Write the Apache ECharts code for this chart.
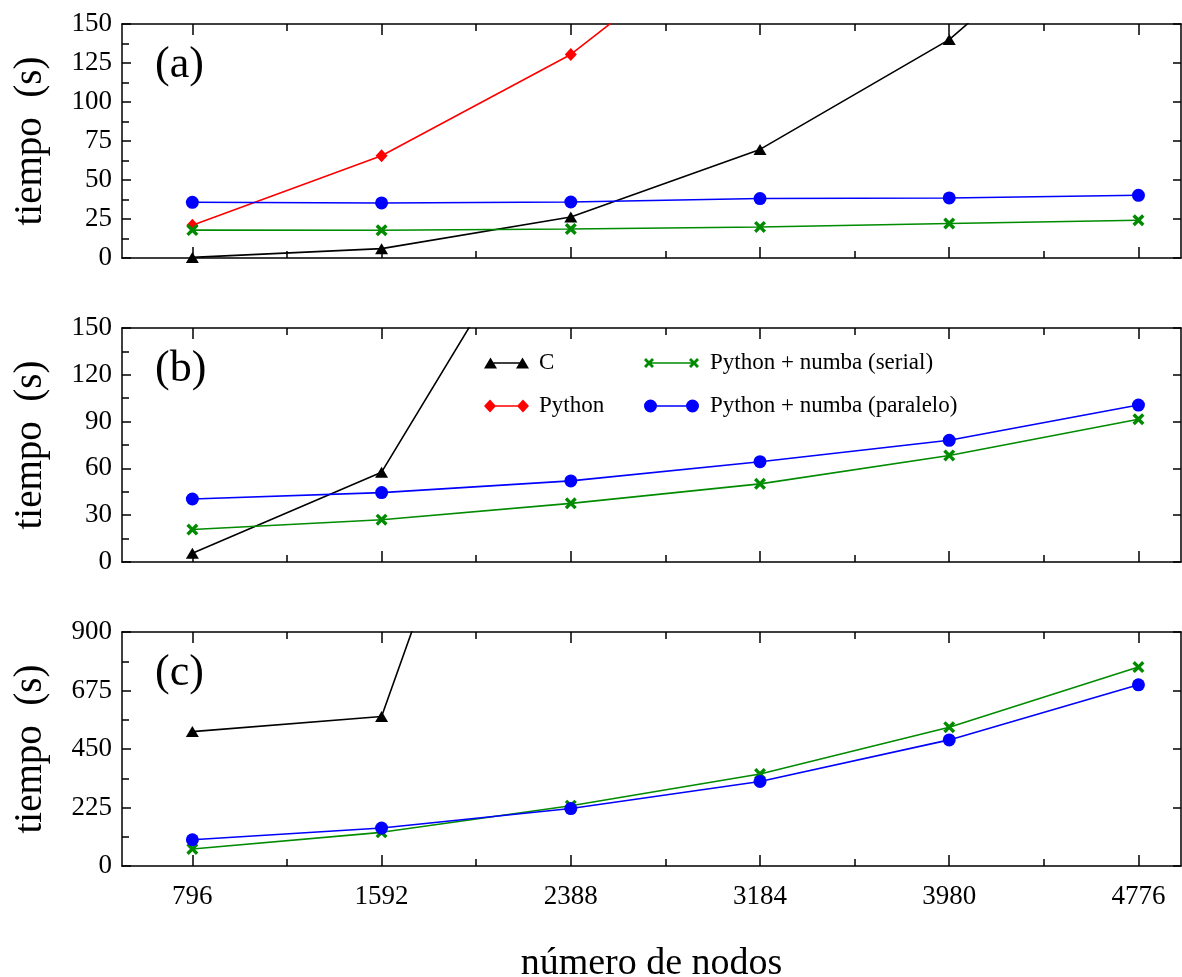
<!DOCTYPE html>
<html>
<head>
<meta charset="utf-8">
<title>tiempo vs número de nodos</title>
<script src="https://cdn.jsdelivr.net/npm/echarts@6/dist/echarts.min.js"></script>
<style>
  html, body { margin: 0; padding: 0; background: #ffffff; }
  #chart { width: 1182px; height: 977px; }
</style>
</head>
<body>
<div id="chart"></div>
<script>
// ---- datos ----
const nodos = [796, 1592, 2388, 3184, 3980, 4776];
const ticksX = [796, 1592, 2388, 3184, 3980, 4776];
const ticksXMenores = [1194, 1990, 2786, 3582, 4378];

// panel (a)
const a_C = [0.4, 6.0, 26.3, 69.6, 140, 245];
const a_Python = [21, 65.5, 130.5, 225];
const a_serial = [17.9, 17.8, 18.6, 19.9, 22.1, 24.2];
const a_paralelo = [35.7, 35.3, 35.9, 38.1, 38.5, 40.2];

// panel (b)
const b_C = [5.6, 57.6, 258];
const b_serial = [20.8, 27.1, 37.6, 50.1, 68.3, 91.5];
const b_paralelo = [40.4, 44.5, 52.0, 64.3, 78.0, 100.6];

// panel (c)
const c_C = [517, 575, 2620];
const c_serial = [65.5, 129.5, 232, 354, 534, 765];
const c_paralelo = [101, 146, 221, 325, 485, 697];

const panelLabels = ['(a)', '(b)', '(c)'];
const yMax = [150, 150, 900];
const yInterval = [25, 30, 225];

// ---- layout & style ----
const FONT = "'Liberation Serif', 'Times New Roman', Times, serif";
const GRID_LEFT = 122;
const GRID_WIDTH = 1059;
const GRID_TOPS = [24, 328, 632];
const GRID_HEIGHT = 234;
const X_MIN = 500;
const X_MAX = 4955;
const LW = 1.6;
const axisLineStyle = { color: '#000', width: 1.5 };

const SYMBOL_X = 'path://M0,2L2,0L5,3L8,0L10,2L7,5L10,8L8,10L5,7L2,10L0,8L3,5Z';
const estilos = {
  'C': { color: '#000000', symbol: 'triangle', symbolSize: [13, 11] },
  'Python': { color: '#ff0000', symbol: 'diamond', symbolSize: [12, 13] },
  'Python + numba (serial)': { color: '#008b00', symbol: SYMBOL_X, symbolSize: 12 },
  'Python + numba (paralelo)': { color: '#0000ff', symbol: 'circle', symbolSize: 13 }
};

// legend icons: marker - line - marker
const iconos = {
  'C': 'path://M0,11L6.5,0L13,11Z M6.5,4.75L38.5,4.75L38.5,6.25L6.5,6.25Z M32,11L38.5,0L45,11Z',
  'Python': 'path://M0,6.5L6,0L12,6.5L6,13Z M6,5.75L39,5.75L39,7.25L6,7.25Z M33,6.5L39,0L45,6.5L39,13Z',
  'Python + numba (serial)': 'path://M0,2L2,0L5,3L8,0L10,2L7,5L10,8L8,10L5,7L2,10L0,8L3,5Z M5,4.25L50,4.25L50,5.75L5,5.75Z M45,2L47,0L50,3L53,0L55,2L52,5L55,8L53,10L50,7L47,10L45,8L48,5Z',
  'Python + numba (paralelo)': 'path://M0,6.5A6.5,6.5 0 1,1 13,6.5A6.5,6.5 0 1,1 0,6.5Z M6.5,5.75L48.5,5.75L48.5,7.25L6.5,7.25Z M42,6.5A6.5,6.5 0 1,1 55,6.5A6.5,6.5 0 1,1 42,6.5Z'
};

const grids = GRID_TOPS.map(top => ({
  left: GRID_LEFT, top: top, width: GRID_WIDTH, height: GRID_HEIGHT,
  containLabel: false, outerBoundsMode: 'none'
}));

function ejesX(g, conEtiquetas) {
  const base = {
    type: 'value', gridIndex: g, min: X_MIN, max: X_MAX,
    splitLine: { show: false },
    axisLine: { show: true, onZero: false, lineStyle: axisLineStyle },
    axisLabel: { show: false },
    silent: true
  };
  const mayor = { inside: true, length: 11, customValues: ticksX, lineStyle: axisLineStyle };
  const menor = { inside: true, length: 7, customValues: ticksXMenores, lineStyle: axisLineStyle };
  return [
    Object.assign({}, base, {
      position: 'bottom',
      axisTick: mayor,
      axisLabel: {
        show: conEtiquetas, customValues: ticksX, margin: 17,
        formatter: v => String(v),
        fontFamily: FONT, fontSize: 27, color: '#000'
      },
      name: conEtiquetas ? 'número de nodos' : '',
      nameLocation: 'middle', nameGap: 79,
      nameTextStyle: { fontFamily: FONT, fontSize: 38, color: '#000' }
    }),
    Object.assign({}, base, { position: 'bottom', axisLine: { show: false, onZero: false }, axisTick: menor }),
    Object.assign({}, base, { position: 'top', axisTick: mayor }),
    Object.assign({}, base, { position: 'top', axisLine: { show: false, onZero: false }, axisTick: menor })
  ];
}

function ejesY(g) {
  return [
    {
      type: 'value', gridIndex: g, position: 'left', min: 0, max: yMax[g], interval: yInterval[g],
      splitLine: { show: false },
      axisLine: { show: true, onZero: false, lineStyle: axisLineStyle },
      axisTick: { inside: true, length: 9, lineStyle: axisLineStyle },
      minorTick: { show: true, splitNumber: 2, length: 7, lineStyle: axisLineStyle },
      minorSplitLine: { show: false },
      axisLabel: { margin: 10, formatter: v => String(v), fontFamily: FONT, fontSize: 27, color: '#000' },
      name: 'tiempo  (s)', nameLocation: 'middle', nameGap: 72,
      nameTextStyle: { fontFamily: FONT, fontSize: 39, color: '#000' },
      silent: true
    },
    {
      type: 'value', gridIndex: g, position: 'right', min: 0, max: yMax[g], interval: yInterval[g],
      splitLine: { show: false },
      axisLine: { show: true, onZero: false, lineStyle: axisLineStyle },
      axisTick: { inside: true, length: 8, lineStyle: axisLineStyle },
      axisLabel: { show: false },
      silent: true
    }
  ];
}

function serie(nombre, g, valores, z) {
  const e = estilos[nombre];
  return {
    type: 'line', name: nombre,
    xAxisIndex: 4 * g, yAxisIndex: 2 * g,
    data: valores.map((v, i) => [nodos[i], v]),
    symbol: e.symbol, symbolSize: e.symbolSize, showSymbol: true,
    itemStyle: { color: e.color, borderWidth: 0 },
    lineStyle: { color: e.color, width: LW },
    clip: true, z: z,
    emphasis: { disabled: true }
  };
}

const series = [
  serie('C', 0, a_C, 3),
  serie('Python', 0, a_Python, 4),
  serie('Python + numba (serial)', 0, a_serial, 5),
  serie('Python + numba (paralelo)', 0, a_paralelo, 6),
  serie('C', 1, b_C, 3),
  serie('Python + numba (serial)', 1, b_serial, 5),
  serie('Python + numba (paralelo)', 1, b_paralelo, 6),
  serie('C', 2, c_C, 3),
  serie('Python + numba (serial)', 2, c_serial, 5),
  serie('Python + numba (paralelo)', 2, c_paralelo, 6)
];

const legendText = { fontFamily: FONT, fontSize: 23, color: '#000', lineHeight: 26 };
function leyenda(nombres, left, ancho, pad) {
  return {
    orient: 'vertical', left: left, top: 350, padding: 0,
    itemGap: 17, itemWidth: ancho, itemHeight: 13,
    selectedMode: false,
    itemStyle: { borderWidth: 0 },
    textStyle: Object.assign({}, legendText, { padding: [0, 0, 0, pad] }),
    data: nombres.map(n => ({ name: n, icon: iconos[n] }))
  };
}

const chart = echarts.init(document.getElementById('chart'), null, { renderer: 'canvas' });
chart.setOption({
  backgroundColor: '#ffffff',
  animation: false,
  grid: grids,
  xAxis: [].concat(ejesX(0, false), ejesX(1, false), ejesX(2, true)),
  yAxis: [].concat(ejesY(0), ejesY(1), ejesY(2)),
  legend: [
    leyenda(['C', 'Python'], 484, 45, 5),
    leyenda(['Python + numba (serial)', 'Python + numba (paralelo)'], 644, 55, 6)
  ],
  graphic: panelLabels.map((t, g) => ({
    type: 'text', left: 155, top: GRID_TOPS[g] + 19,
    style: { text: t, fontFamily: FONT, fontSize: 44, fill: '#000' },
    silent: true
  })),
  series: series
});
</script>
</body>
</html>
